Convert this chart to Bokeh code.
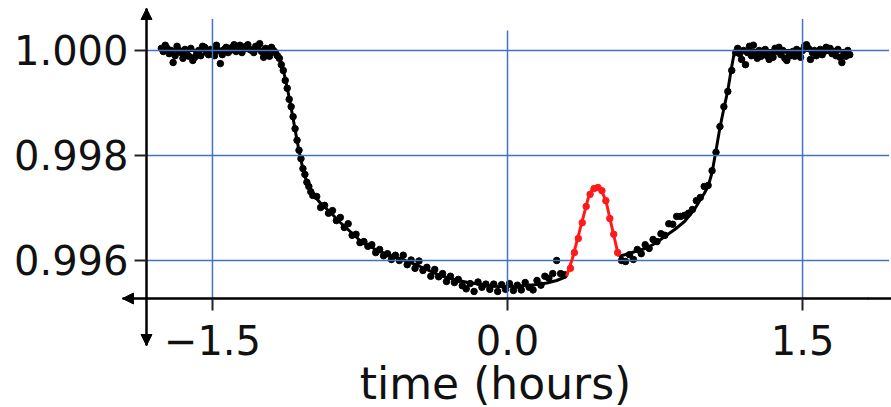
from bokeh.plotting import figure
from bokeh.models import FixedTicker, CustomJSTickFormatter, Arrow, NormalHead, Range1d
from bokeh.embed import file_html
from bokeh.resources import INLINE

# ---------------- data ----------------
x_ticks = [-1.5, 0.0, 1.5]
x_tick_labels = ["\u22121.5", "0.0", "1.5"]
y_ticks = [0.996, 0.998, 1.000]
y_tick_labels = ["0.996", "0.998", "1.000"]
x_label = "time (hours)"

# observed points (black)
time_black = [
    -1.76, -1.75, -1.74, -1.73, -1.72, -1.71, -1.70, -1.69, -1.68, -1.67,
    -1.66, -1.65, -1.64, -1.63, -1.62, -1.61, -1.60, -1.59, -1.58, -1.57,
    -1.56, -1.55, -1.54, -1.53, -1.52, -1.51, -1.50, -1.49, -1.48, -1.47,
    -1.46, -1.45, -1.44, -1.43, -1.42, -1.41, -1.40, -1.39, -1.38, -1.37,
    -1.36, -1.35, -1.34, -1.33, -1.32, -1.31, -1.30, -1.29, -1.28, -1.27,
    -1.26, -1.25, -1.24, -1.23, -1.22, -1.21, -1.20, -1.19, -1.18,
    -1.17, -1.16, -1.15, -1.14, -1.13, -1.12, -1.11, -1.10, -1.09, -1.08,
    -1.07, -1.06, -1.05, -1.04, -1.03, -1.02, -1.01, -1.00,
    -0.99, -0.97, -0.95, -0.93, -0.91, -0.89, -0.87, -0.85, -0.83, -0.81,
    -0.79, -0.77, -0.75, -0.73, -0.71, -0.69, -0.67, -0.65, -0.63, -0.61,
    -0.59, -0.57, -0.55, -0.53, -0.51, -0.49, -0.47, -0.45, -0.43, -0.41,
    -0.39, -0.37, -0.35, -0.33, -0.31, -0.29, -0.27, -0.25, -0.23, -0.21,
    -0.19, -0.17, -0.15, -0.13, -0.11, -0.09, -0.07, -0.05, -0.03, -0.01,
    0.01, 0.03, 0.05, 0.07, 0.09, 0.11, 0.13, 0.15, 0.17, 0.19,
    0.21, 0.23, 0.25, 0.27, 0.29,
    0.58, 0.60, 0.62, 0.64, 0.66, 0.68, 0.70, 0.72, 0.74, 0.76,
    0.78, 0.80, 0.82, 0.84, 0.86, 0.88, 0.90, 0.92, 0.94, 0.96,
    0.98, 1.00, 1.02, 1.04, 1.06, 1.08, 1.10, 1.12, 1.14, 1.16,
    1.17, 1.18, 1.19, 1.20, 1.21, 1.22, 1.23, 1.24, 1.25, 1.26,
    1.27, 1.28, 1.29, 1.30, 1.31, 1.32, 1.33, 1.34, 1.35, 1.36,
    1.37, 1.38, 1.39, 1.40, 1.41, 1.42, 1.43, 1.44, 1.45, 1.46,
    1.47, 1.48, 1.49, 1.50, 1.51, 1.52, 1.53, 1.54, 1.55, 1.56,
    1.57, 1.58, 1.59, 1.60, 1.61, 1.62, 1.63, 1.64, 1.65, 1.66,
    1.67, 1.68, 1.69, 1.70, 1.71, 1.72, 1.73, 1.74,
]
flux_black = [
    1.00004, 0.99998, 1.00010, 1.00004, 0.99994, 1.00000, 0.99977, 0.99990, 1.00008, 1.00000,
    0.99996, 0.99985, 1.00002, 0.99994, 0.99989, 1.00004, 0.99981, 0.99987, 0.99996, 1.00000,
    0.99990, 1.00008, 1.00006, 0.99996, 0.99992, 1.00002, 1.00000, 0.99990, 1.00010, 1.00000,
    0.99975, 0.99992, 1.00002, 1.00006, 0.99996, 1.00000, 1.00006, 1.00011, 0.99998, 1.00002,
    1.00010, 0.99996, 1.00004, 1.00008, 1.00011, 1.00002, 1.00000, 0.99996, 1.00008, 1.00006,
    1.00013, 0.99998, 0.99987, 1.00004, 0.99992, 0.99989, 1.00006, 1.00000, 0.99996,
    0.99990, 0.99985, 0.99973, 0.99962, 0.99943, 0.99928, 0.99907, 0.99893, 0.99874, 0.99851,
    0.99829, 0.99810, 0.99794, 0.99775, 0.99764, 0.99749, 0.99741, 0.99731,
    0.99724, 0.99722, 0.99701, 0.99705, 0.99690, 0.99695, 0.99676, 0.99682, 0.99663, 0.99670,
    0.99648, 0.99650, 0.99634, 0.99636, 0.99627, 0.99630, 0.99615, 0.99621, 0.99609, 0.99613,
    0.99602, 0.99610, 0.99600, 0.99610, 0.99592, 0.99601, 0.99585, 0.99599, 0.99581, 0.99587,
    0.99570, 0.99583, 0.99569, 0.99575, 0.99560, 0.99570, 0.99558, 0.99564, 0.99552, 0.99546,
    0.99556, 0.99541, 0.99559, 0.99549, 0.99555, 0.99545, 0.99555, 0.99541, 0.99554, 0.99545,
    0.99556, 0.99543, 0.99553, 0.99544, 0.99558, 0.99549, 0.99544, 0.99562, 0.99553, 0.99570,
    0.99566, 0.99575, 0.99600, 0.99575, 0.99573,
    0.99600, 0.99598, 0.99611, 0.99602, 0.99621, 0.99613, 0.99630, 0.99623, 0.99640, 0.99636,
    0.99651, 0.99648, 0.99670, 0.99669, 0.99684, 0.99684, 0.99686, 0.99690, 0.99697, 0.99714,
    0.99720, 0.99741, 0.99743, 0.99771, 0.99806, 0.99855, 0.99893, 0.99922, 0.99962, 0.99996,
    1.00004, 0.99994, 0.99983, 1.00000, 0.99973, 0.99996, 1.00008, 0.99990, 1.00010, 0.99996,
    0.99985, 1.00000, 0.99989, 0.99994, 1.00002, 0.99990, 0.99983, 0.99996, 0.99987, 1.00004,
    0.99998, 1.00006, 0.99992, 1.00000, 0.99985, 0.99981, 0.99996, 0.99990, 0.99998, 0.99989,
    1.00002, 0.99992, 0.99987, 1.00000, 1.00008, 1.00011, 1.00004, 0.99983, 0.99996, 1.00000,
    0.99990, 0.99996, 1.00002, 0.99992, 0.99998, 1.00006, 1.00000, 1.00004, 0.99994, 0.99998,
    0.99990, 1.00002, 0.99987, 0.99977, 0.99996, 0.99989, 1.00000, 0.99992,
]

# observed points during the spot crossing (red)
time_red = [0.32, 0.34, 0.36, 0.38, 0.40, 0.42, 0.44, 0.46, 0.48, 0.50, 0.52, 0.54, 0.56]
flux_red = [0.99585, 0.99615, 0.99642, 0.99672, 0.99703, 0.99726, 0.99737, 0.99739,
            0.99733, 0.99714, 0.99680, 0.99650, 0.99615]

# model curve before the spot (black)
model_time_in = [-1.76, -1.18, -1.17, -1.15, -1.13, -1.11, -1.09, -1.07, -1.05, -1.03,
                 -1.01, -0.99, -0.95, -0.90, -0.85, -0.80, -0.75, -0.70, -0.65, -0.60,
                 -0.55, -0.50, -0.45, -0.40, -0.35, -0.30, -0.25, -0.20, -0.15, -0.10,
                 -0.05, 0.00, 0.05, 0.10, 0.15, 0.20, 0.25, 0.30]
model_flux_in = [1.0, 1.0, 0.999943, 0.999771, 0.999467, 0.999105, 0.998705, 0.998286, 0.997905, 0.997600,
                 0.997410, 0.997276, 0.997086, 0.996914, 0.996724, 0.996552, 0.996381, 0.996267, 0.996171, 0.996105,
                 0.996038, 0.995971, 0.995895, 0.995810, 0.995724, 0.995667, 0.995619, 0.995581, 0.995552, 0.995524,
                 0.995505, 0.995505, 0.995514, 0.995524, 0.995543, 0.995571, 0.995619, 0.995695]

# model curve across the spot (red)
model_time_spot = [0.30, 0.33, 0.37, 0.41, 0.43, 0.47, 0.50, 0.53, 0.565]
model_flux_spot = [0.995695, 0.996038, 0.996610, 0.997181, 0.997352, 0.997390, 0.997143, 0.996648, 0.996076]

# model curve after the spot (black)
model_time_out = [0.565, 0.60, 0.65, 0.70, 0.75, 0.80, 0.85, 0.90, 0.95, 1.00,
                  1.02, 1.04, 1.06, 1.08, 1.10, 1.12, 1.14, 1.155, 1.74]
model_flux_out = [0.996076, 0.996114, 0.996171, 0.996229, 0.996324, 0.996457, 0.996590, 0.996743, 0.996971, 0.997276,
                  0.997410, 0.997676, 0.998095, 0.998533, 0.998895, 0.999238, 0.999695, 1.0, 1.0]

# ---------------- layout / style ----------------
# the frame fills the whole canvas; the axes are drawn at fixed data positions
X_MIN, X_MAX = -2.5776, 1.9522
Y_MIN, Y_MAX = 0.993200, 1.000952
X_AXIS_AT = 0.995276          # flux where the time axis is drawn
Y_AXIS_AT = -1.8353           # time where the flux axis is drawn
X_AXIS_BOUNDS = (-1.9573, 1.837)   # centres the axis label like the reference
X_AXIS_EXT = (1.83, 1.96)          # rest of the time-axis line to the right edge
Y_AXIS_BOUNDS = (0.994381, 1.0008)
HGRID_END = 1.94              # right end of the horizontal grid lines
VGRID_TOP = [1.00060, 1.00038, 1.00060]   # top ends of the vertical grid lines
BLUE = "#4472C4"
FONT = "DejaVu Sans"

p = figure(width=891, height=407, output_backend="svg", toolbar_location=None,
           x_range=Range1d(X_MIN, X_MAX), y_range=Range1d(Y_MIN, Y_MAX),
           min_border_left=0, min_border_right=0, min_border_top=0,
           min_border_bottom=0, min_border=0, title=None)
p.outline_line_color = None
p.background_fill_color = "white"
p.border_fill_color = "white"
p.xgrid.visible = False
p.ygrid.visible = False

fmt_code = """
for (let i = 0; i < tvals.length; i++) {
  if (Math.abs(tvals[i] - tick) < 1e-9) return tlabels[i];
}
return '';
"""

xa = p.xaxis[0]
ya = p.yaxis[0]
xa.fixed_location = X_AXIS_AT
ya.fixed_location = Y_AXIS_AT
xa.bounds = X_AXIS_BOUNDS
ya.bounds = Y_AXIS_BOUNDS
xa.ticker = FixedTicker(ticks=x_ticks)
ya.ticker = FixedTicker(ticks=y_ticks)
xa.formatter = CustomJSTickFormatter(args=dict(tvals=x_ticks, tlabels=x_tick_labels), code=fmt_code)
ya.formatter = CustomJSTickFormatter(args=dict(tvals=y_ticks, tlabels=y_tick_labels), code=fmt_code)

for ax in (xa, ya):
    ax.axis_line_color = "black"
    ax.axis_line_width = 2.5
    ax.major_tick_line_color = "#222222"
    ax.major_tick_line_width = 2
    ax.major_tick_in = 0
    ax.major_tick_out = 12
    ax.minor_tick_line_color = None
    ax.major_label_text_font = FONT
    ax.major_label_text_font_size = "40px"
    ax.major_label_text_color = "#111111"
xa.major_label_standoff = 14
ya.major_label_standoff = 6

xa.axis_label = x_label
xa.axis_label_text_font = FONT
xa.axis_label_text_font_size = "44px"
xa.axis_label_text_font_style = "normal"
xa.axis_label_text_color = "#111111"
xa.axis_label_standoff = 0

# continuation of the time-axis line to the right edge
p.segment(x0=[X_AXIS_EXT[0]], y0=[X_AXIS_AT], x1=[X_AXIS_EXT[1]], y1=[X_AXIS_AT],
          line_color="black", line_width=2.5)

# model and observations
p.line(model_time_in, model_flux_in, line_color="black", line_width=3)
p.line(model_time_out, model_flux_out, line_color="black", line_width=3)
p.scatter(time_black, flux_black, size=6.5, fill_color="black", line_color="black")

# grid lines (blue), limited to the region right of / above the axes
p.segment(x0=[Y_AXIS_AT] * len(y_ticks), y0=y_ticks, x1=[HGRID_END] * len(y_ticks), y1=y_ticks,
          line_color=BLUE, line_width=1.5)
p.segment(x0=x_ticks, y0=[X_AXIS_AT] * len(x_ticks), x1=x_ticks, y1=VGRID_TOP,
          line_color=BLUE, line_width=1.5)

p.line(model_time_spot, model_flux_spot, line_color="#ff1a1a", line_width=3)
p.scatter(time_red, flux_red, size=6.5, fill_color="#ff1a1a", line_color="#ff1a1a")

# arrow heads at the ends of the axis lines
def head():
    return NormalHead(size=11, fill_color="black", line_color="black", line_width=1)

p.add_layout(Arrow(end=head(), x_start=Y_AXIS_AT, y_start=Y_AXIS_BOUNDS[1] - 0.0003,
                   x_end=Y_AXIS_AT, y_end=Y_AXIS_BOUNDS[1], line_alpha=0))
p.add_layout(Arrow(end=head(), x_start=Y_AXIS_AT, y_start=Y_AXIS_BOUNDS[0] + 0.0003,
                   x_end=Y_AXIS_AT, y_end=Y_AXIS_BOUNDS[0], line_alpha=0))
p.add_layout(Arrow(end=head(), x_start=X_AXIS_BOUNDS[0] + 0.1, y_start=X_AXIS_AT,
                   x_end=X_AXIS_BOUNDS[0], y_end=X_AXIS_AT, line_alpha=0))

open("out.html", "w").write(file_html(p, INLINE))
